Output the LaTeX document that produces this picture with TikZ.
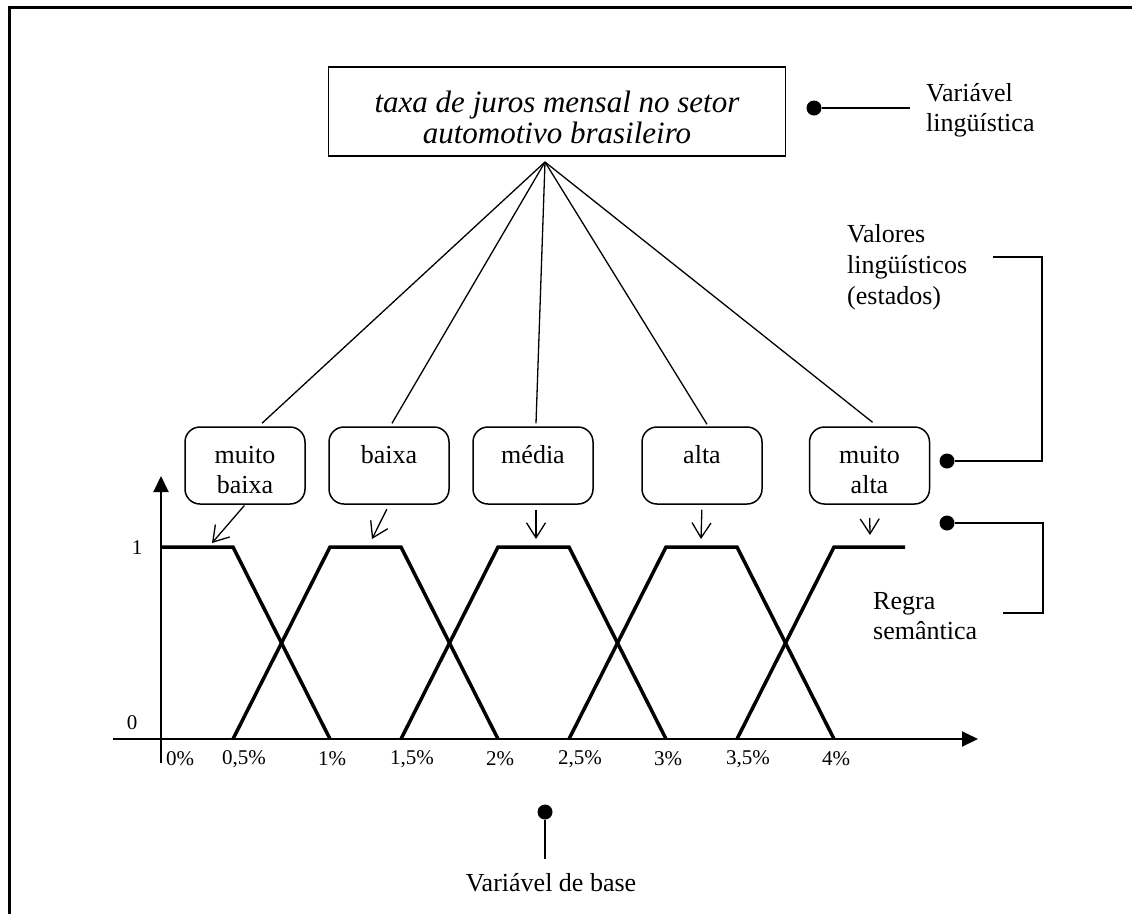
\documentclass[tikz,border=0pt]{standalone}
\usepackage{fontspec}
\setmainfont{Liberation Serif}
\usetikzlibrary{arrows.meta,positioning}
\newcommand{\altura}[1]{\rule{0pt}{#1pt}}
\tikzset{basico/.style={font=\fontsize{26}{30}\selectfont}}
\tikzset{estado/.style={basico,draw,rectangle,rounded corners=15pt,line width=1.5pt,minimum width=120pt,minimum height=77pt,inner sep=0pt,align=center}}
\tikzset{variavel/.style={draw,rectangle,line width=1.5pt,minimum width=457pt,minimum height=89pt,inner sep=0pt,align=center,font=\fontsize{31}{31}\selectfont\itshape}}
\tikzset{ponto/.style={circle,fill=black,inner sep=0pt,minimum size=15pt}}
\tikzset{rotulo/.style={basico,align=left,anchor=west,inner sep=0pt}}
\tikzset{escala/.style={font=\fontsize{21}{25}\selectfont,anchor=west,inner sep=0pt}}
\tikzset{liga/.style={draw,line width=1.3pt}}
\tikzset{seta/.style={draw,line width=1.3pt,-{Straight Barb[length=15pt,width=19pt]}}}
\tikzset{chave/.style={draw,line width=2pt}}
\tikzset{eixo/.style={draw,line width=2pt,-{Triangle[length=16pt,width=15pt]}}}
\tikzset{pert/.style={draw,line width=3.5pt,line join=miter}}

\begin{document}
\begin{tikzpicture}[x=1pt,y=-1pt]
    \useasboundingbox (0,0) rectangle (1132,914);
    \draw[line width=3pt] (1132,7) -- (9,7) -- (9,914);

    \node[variavel] (var) at (557,111.5) {\altura{33}taxa de juros mensal no setor\\automotivo brasileiro};
    \coordinate (topo) at (545,162);

    \node[estado] (mb) at (245,465.5) {\altura{26}muito\\baixa};
    \node[estado] (b) at (389,465.5) {\altura{26}baixa\\\mbox{}};
    \node[estado] (md) at (533,465.5) {\altura{26}média\\\mbox{}};
    \node[estado] (a) at (702,465.5) {\altura{26}alta\\\mbox{}};
    \node[estado] (ma) at (869.5,465.5) {\altura{26}muito\\alta};

    \node[ponto] (p1) at (814,108) {};
    \coordinate (p1b) at (910,108);
    \node[rotulo] (lvar) at (926,110) {Variável\\lingüística};

    \node[rotulo,font=\fontsize{26}{31}\selectfont] (lval) at (847,267) {Valores\\lingüísticos\\(estados)};
    \node[ponto] (p2) at (947,461) {};

    \node[ponto] (p3) at (947,523) {};
    \node[rotulo] (lreg) at (873,616) {Regra\\semântica};

    \node[ponto] (p4) at (545,812) {};
    \coordinate (p4b) at (545,859);
    \node[basico,inner sep=0pt,below=14pt of p4b,xshift=6pt] (lbase) {Variável de base};

    \coordinate (amb) at (212,543);
    \coordinate (ab) at (372,539);
    \coordinate (amd) at (536,539);
    \coordinate (aa) at (701,539);
    \coordinate (ama) at (870,535);

    \node[escala,anchor=center] (um) at (137,548) {1};
    \node[escala,anchor=center] (zero) at (132,723) {0};
    \node[escala] (t0) at (166,759) {0\%};
    \node[escala] (t05) at (222,759) {0,5\%};
    \node[escala] (t1) at (318,759) {1\%};
    \node[escala] (t15) at (390,759) {1,5\%};
    \node[escala] (t2) at (486,759) {2\%};
    \node[escala] (t25) at (558,759) {2,5\%};
    \node[escala] (t3) at (654,759) {3\%};
    \node[escala] (t35) at (726,759) {3,5\%};
    \node[escala] (t4) at (822,759) {4\%};

        \path[liga] (topo) -- ([xshift=17pt,yshift=3pt]mb.north);
        \path[liga] (topo) -- ([xshift=3pt,yshift=3pt]b.north);
        \path[liga] (topo) -- ([xshift=3pt,yshift=3pt]md.north);
        \path[liga] (topo) -- ([xshift=5pt,yshift=2pt]a.north);
        \path[liga] (topo) -- ([xshift=3pt,yshift=4pt]ma.north);

        \path[seta,shorten <=1pt] (mb.south) -- (amb);
        \path[seta,shorten <=5pt] (b.south) -- (ab);
        \path[seta,shorten <=5pt] ([xshift=3pt]md.south) -- (amd);
        \path[seta,shorten <=5pt] (a.south) -- (aa);
        \path[seta,shorten <=13pt] (ma.south) -- (ama);

        \path[eixo] (161,763) -- (161,476);
        \path[eixo] (113,739) -- (978,739);

        \path[pert] (161,547) -- (233,547) -- (330,739);
        \path[pert] (233,739) -- (330,547) -- (401,547) -- (498,739);
        \path[pert] (401,739) -- (498,547) -- (569,547) -- (666,739);
        \path[pert] (569,739) -- (666,547) -- (737,547) -- (834,739);
        \path[pert] (737,739) -- (834,547) -- (905,547);

        \path[chave] (p1) -- (p1b);
        \path[chave] (p2) -- (1042,461) -- (1042,257) -- (993,257);
        \path[chave] (p3) -- (1043,523) -- (1043,613) -- (1003,613);
        \path[chave] (p4) -- (p4b);
\end{tikzpicture}
\end{document}
